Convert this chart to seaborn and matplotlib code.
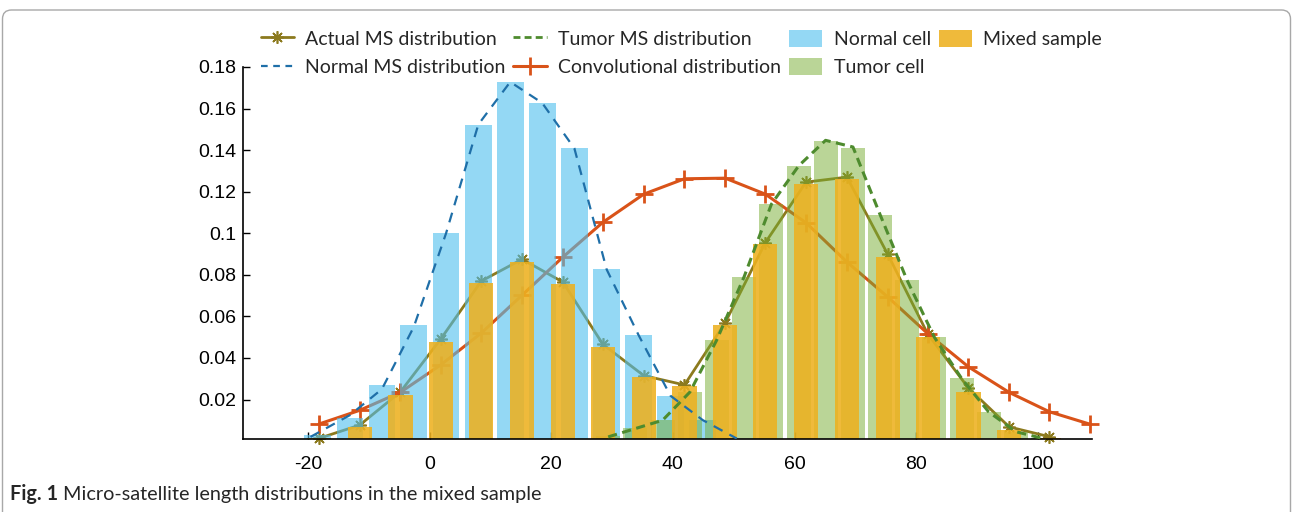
import matplotlib
matplotlib.use("Agg")
import matplotlib.pyplot as plt
from matplotlib.lines import Line2D
from matplotlib.patches import Patch, FancyBboxPatch
from matplotlib.transforms import IdentityTransform
import seaborn as sns

# --- values (x = MS length, y = frequency) ---
normal_x = [-18.4, -13.1, -7.85, -2.6, 2.7, 8.0, 13.25, 18.5, 23.8, 29.1, 34.35, 39.6, 44.9]
normal_cell = [0.0027, 0.0112, 0.0270, 0.0558, 0.1000, 0.1523, 0.1728, 0.1627, 0.1408,
               0.0826, 0.0510, 0.0218, 0.0101]

normal_ms_x = [-19.6, -13.1, -7.85, -2.6, 2.7, 8.0, 13.25, 18.5, 23.8, 29.1, 34.35, 39.6, 44.9, 50.5]
normal_ms = [0.0020, 0.0125, 0.0250, 0.0550, 0.1000, 0.1523, 0.1728, 0.1627, 0.1408,
             0.0826, 0.0510, 0.0218, 0.0101, 0.0012]

tumor_x = [29.35, 33.8, 38.3, 42.8, 47.2, 51.7, 56.2, 60.7, 65.1, 69.6, 74.1, 78.5,
           83.0, 87.5, 91.9, 96.4, 100.9]
tumor_cell = [0.0025, 0.0063, 0.0101, 0.0236, 0.0486, 0.0790, 0.1143, 0.1324, 0.1444,
              0.1412, 0.1087, 0.0774, 0.0499, 0.0302, 0.0141, 0.0045, 0.0015]
tumor_ms = [0.0020, 0.0060, 0.0100, 0.0236, 0.0486, 0.0790, 0.1140, 0.1325, 0.1447,
            0.1415, 0.1087, 0.0774, 0.0499, 0.0300, 0.0141, 0.0045, 0.0012]

mixed_x = [-18.2, -11.5, -4.8, 1.8, 8.5, 15.2, 21.9, 28.5, 35.2, 41.9, 48.6, 55.2,
           61.9, 68.6, 75.3, 81.9, 88.6, 95.3, 101.9]
mixed_sample = [0.0013, 0.0069, 0.0220, 0.0478, 0.0761, 0.0862, 0.0754, 0.0454, 0.0310,
                0.0265, 0.0558, 0.0948, 0.1235, 0.1263, 0.0886, 0.0500, 0.0237, 0.0053, 0.0015]
actual_ms = [0.0013, 0.0077, 0.0237, 0.0490, 0.0770, 0.0875, 0.0765, 0.0465, 0.0315,
             0.0270, 0.0570, 0.0955, 0.1246, 0.1270, 0.0900, 0.0515, 0.0255, 0.0068, 0.0021]

conv_x = [-18.2, -11.5, -4.8, 1.8, 8.5, 15.2, 21.9, 28.5, 35.2, 41.9, 48.6, 55.2,
          61.9, 68.6, 75.3, 81.9, 88.6, 95.3, 101.9, 108.6]
conv_ms = [0.0082, 0.0148, 0.0235, 0.0366, 0.0520, 0.0702, 0.0885, 0.1053, 0.1188, 0.1262,
           0.1265, 0.1188, 0.1050, 0.0862, 0.0694, 0.0517, 0.0357, 0.0234, 0.0141, 0.0081]

x_ticks = [-20, 0, 20, 40, 60, 80, 100]
x_tick_labels = ["-20", "0", "20", "40", "60", "80", "100"]
y_ticks = [0.02, 0.04, 0.06, 0.08, 0.10, 0.12, 0.14, 0.16, 0.18]
y_tick_labels = ["0.02", "0.04", "0.06", "0.08", "0.1", "0.12", "0.14", "0.16", "0.18"]

# colours
C_NORMAL_BAR = "#4DBEEE"
C_TUMOR_BAR = "#77AC30"
C_MIXED_BAR = "#EDB120"
C_CONV = "#D95319"
C_ACTUAL = "#8C7A1E"
C_NORMAL_LINE = "#1F6FA8"
C_TUMOR_LINE = "#4E8B2E"

ASTERISK = (8, 2, 0)

sns.set_style("ticks")
plt.rcParams["font.family"] = ["Liberation Sans", "DejaVu Sans"]

fig = plt.figure(figsize=(12.93, 5.12), dpi=100)
ax = fig.add_axes([0.1879, 0.1426, 0.6566, 0.7266])

# solid lines sit under the translucent bars
sns.lineplot(x=mixed_x, y=actual_ms, ax=ax, color=C_ACTUAL, lw=2, marker=ASTERISK,
             markersize=9, markeredgecolor=C_ACTUAL, markerfacecolor=C_ACTUAL,
             markeredgewidth=1.2, zorder=1.5, clip_on=False)
sns.lineplot(x=conv_x, y=conv_ms, ax=ax, color=C_CONV, lw=2.2, marker="+",
             markersize=13, markeredgecolor=C_CONV, markeredgewidth=2,
             zorder=1.6, clip_on=False)

sns.barplot(x=normal_x, y=normal_cell, ax=ax, native_scale=True, width=0.84,
            color=C_NORMAL_BAR, saturation=1, alpha=0.6, errorbar=None,
            edgecolor="none", linewidth=0, zorder=2)
sns.barplot(x=tumor_x, y=tumor_cell, ax=ax, native_scale=True, width=0.9,
            color=C_TUMOR_BAR, saturation=1, alpha=0.5, errorbar=None,
            edgecolor="none", linewidth=0, zorder=2.1)
sns.barplot(x=mixed_x, y=mixed_sample, ax=ax, native_scale=True, width=0.6,
            color=C_MIXED_BAR, saturation=1, alpha=0.88, errorbar=None,
            edgecolor="none", linewidth=0, zorder=2.2)

sns.lineplot(x=normal_ms_x, y=normal_ms, ax=ax, color=C_NORMAL_LINE, lw=1.6,
             dashes=False, linestyle=(0, (4.5, 3.5)), zorder=3)
sns.lineplot(x=tumor_x, y=tumor_ms, ax=ax, color=C_TUMOR_LINE, lw=2.2,
             dashes=False, linestyle=(0, (3, 1.8)), zorder=3)

ax.set_xlim(-30.7, 108.9)
ax.set_ylim(0.001, 0.18)
ax.set_xticks(x_ticks)
ax.set_xticklabels(x_tick_labels)
ax.set_yticks(y_ticks)
ax.set_yticklabels(y_tick_labels)
ax.set_xlabel("")
ax.set_ylabel("")
ax.tick_params(direction="in", length=5, width=1, colors="black", labelsize=14)
ax.tick_params(axis="x", pad=12)
ax.tick_params(axis="y", pad=5)
sns.despine(ax=ax)
for side in ["left", "bottom"]:
    ax.spines[side].set_color("black")
    ax.spines[side].set_linewidth(1.2)

handles = [
    Line2D([], [], color=C_ACTUAL, lw=2, marker=ASTERISK, markersize=9,
           markeredgecolor=C_ACTUAL, markeredgewidth=1.2),
    Line2D([], [], color=C_NORMAL_LINE, lw=1.6, linestyle=(0, (3, 2.5))),
    Line2D([], [], color=C_TUMOR_LINE, lw=2, linestyle=(0, (2.5, 1.5))),
    Line2D([], [], color=C_CONV, lw=2.2, marker="+", markersize=13, markeredgewidth=2),
    Patch(facecolor=C_NORMAL_BAR, alpha=0.6, edgecolor="none"),
    Patch(facecolor=C_TUMOR_BAR, alpha=0.5, edgecolor="none"),
    Patch(facecolor=C_MIXED_BAR, alpha=0.88, edgecolor="none"),
]
labels = ["Actual MS distribution", "Normal MS distribution", "Tumor MS distribution",
          "Convolutional distribution", "Normal cell", "Tumor cell", "Mixed sample"]
fig.legend(handles, labels, ncol=4, loc="center", bbox_to_anchor=(0.527, 0.8965),
           frameon=False, prop={"family": ["Lato", "DejaVu Sans"], "size": 14},
           handlelength=1.7, handleheight=1.0, handletextpad=0.6,
           columnspacing=0.4, labelspacing=0.5, borderpad=0, borderaxespad=0)

# caption with bold figure number
cap_font = ["Lato", "DejaVu Sans"]
t1 = fig.text(10 / 1293, 0.035, "Fig. 1", family=cap_font, weight="bold", size=14.3, va="center")
fig.canvas.draw()
bb = t1.get_window_extent()
fig.text((bb.x1 + 5) / 1293, 0.035, "Micro-satellite length distributions in the mixed sample",
         family=cap_font, size=14.3, va="center")

# light rounded frame around the whole figure
frame = FancyBboxPatch((2.5, -20), 1288, 522, boxstyle="round,pad=0,rounding_size=9",
                       transform=IdentityTransform(), facecolor="none",
                       edgecolor="#a8a8a8", lw=1)
fig.patches.append(frame)

fig.savefig("out.png", dpi=100)
